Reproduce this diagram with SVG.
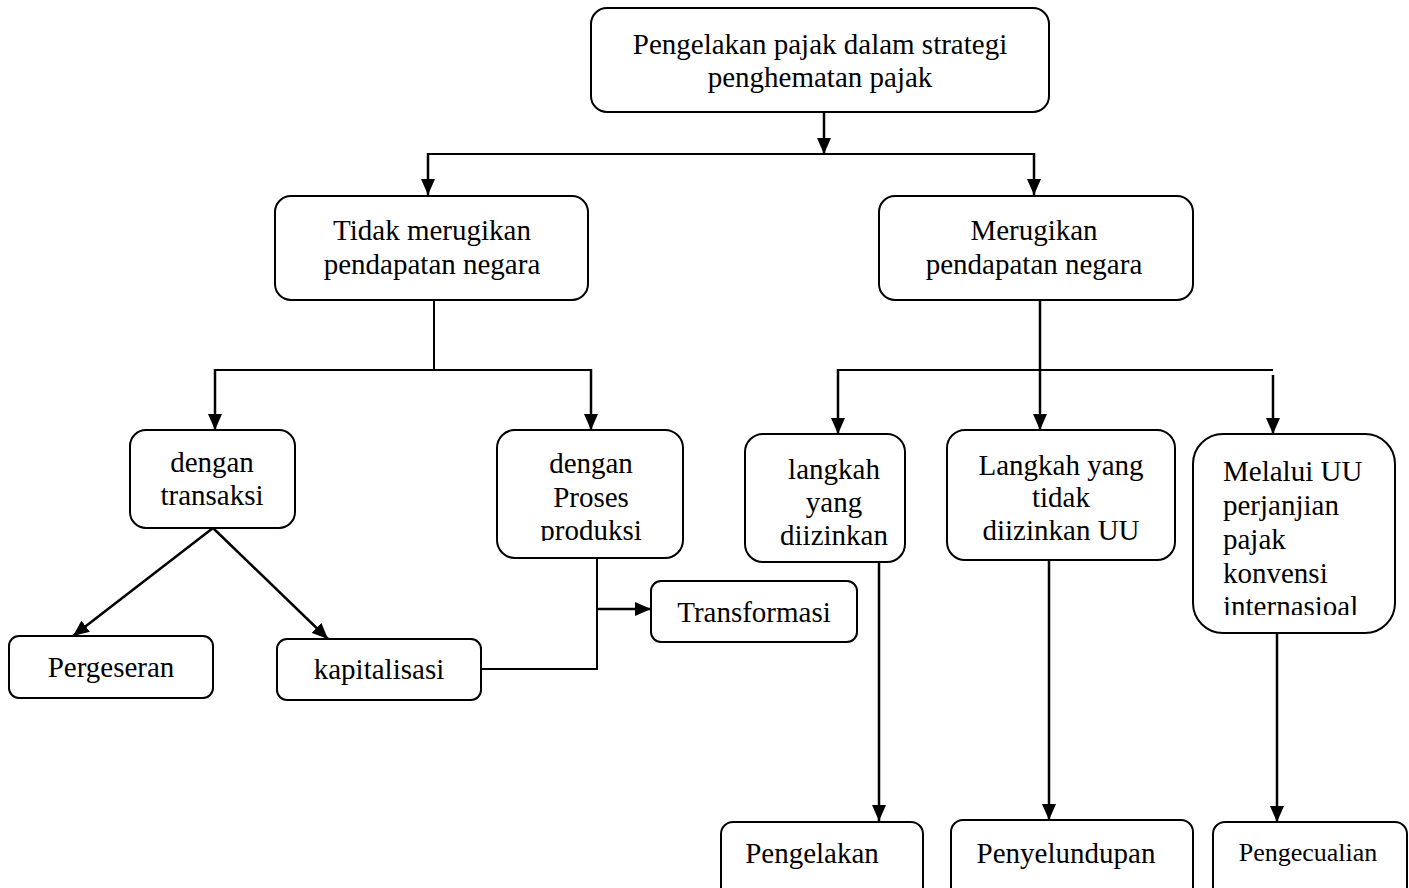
<svg xmlns="http://www.w3.org/2000/svg" width="1409" height="888" viewBox="0 0 1409 888">
<style>
.box{fill:#fff;stroke:#000;stroke-width:2}
.t{font-family:"Liberation Serif","Times New Roman",serif;font-size:29px;fill:#000}
.c{text-anchor:middle}
.ln{fill:none;stroke:#000;stroke-width:2}
.ar{fill:none;stroke:#000;stroke-width:2.5;marker-end:url(#ah)}
</style>
<defs>
<marker id="ah" markerUnits="userSpaceOnUse" markerWidth="16" markerHeight="14" refX="16" refY="7" orient="auto">
<path d="M0,0 L16,7 L0,14 z" fill="#000"/>
</marker>
<clipPath id="cp1"><rect x="497" y="430" width="186" height="111"/></clipPath>
<clipPath id="cp2"><rect x="745" y="434" width="160" height="112"/></clipPath>
<clipPath id="cp3"><rect x="1193" y="434" width="202" height="181"/></clipPath>
</defs>
<rect width="1409" height="888" fill="#fff"/>
<g id="connectors">
<path class="ar" d="M824,112 V154"/>
<path class="ln" d="M428,154 H1034"/>
<path class="ar" d="M428,153 V195"/>
<path class="ar" d="M1034,153 V195"/>
<path class="ln" d="M434,300 V370"/>
<path class="ln" d="M215,370 H591"/>
<path class="ar" d="M215,369 V430"/>
<path class="ar" d="M591,369 V430"/>
<path class="ar" d="M213,528 L73,636"/>
<path class="ar" d="M213,528 L328,639"/>
<path class="ln" d="M481,669 H597 V558"/>
<path class="ar" d="M597,609 H651"/>
<path class="ar" d="M1040,300 V430"/>
<path class="ln" d="M838,370 H1273"/>
<path class="ar" d="M838,369 V434"/>
<path class="ar" d="M1273,375 V434"/>
<path class="ar" d="M879,562 V821"/>
<path class="ar" d="M1049,560 V820"/>
<path class="ar" d="M1277,633 V822"/>
</g>
<g id="n-root">
<rect class="box" x="591" y="8" width="458" height="104" rx="16"/>
<text class="t c" x="820" y="54">Pengelakan pajak dalam strategi</text>
<text class="t c" x="820" y="87">penghematan pajak</text>
</g>
<g id="n-tidak">
<rect class="box" x="275" y="196" width="313" height="104" rx="16"/>
<text class="t c" x="432" y="240">Tidak merugikan</text>
<text class="t c" x="432" y="274">pendapatan negara</text>
</g>
<g id="n-merugikan">
<rect class="box" x="879" y="196" width="314" height="104" rx="16"/>
<text class="t c" x="1034" y="240">Merugikan</text>
<text class="t c" x="1034" y="274">pendapatan negara</text>
</g>
<g id="n-transaksi">
<rect class="box" x="130" y="430" width="165" height="98" rx="16"/>
<text class="t c" x="212" y="472">dengan</text>
<text class="t c" x="212" y="505">transaksi</text>
</g>
<g id="n-produksi">
<rect class="box" x="497" y="430" width="186" height="128" rx="18"/>
<g clip-path="url(#cp1)">
<text class="t c" x="591" y="473">dengan</text>
<text class="t c" x="591" y="507">Proses</text>
<text class="t c" x="591" y="540">produksi</text>
</g>
</g>
<g id="n-langkah">
<rect class="box" x="745" y="434" width="160" height="128" rx="18"/>
<g clip-path="url(#cp2)">
<text class="t c" x="834" y="479">langkah</text>
<text class="t c" x="834" y="512">yang</text>
<text class="t c" x="834" y="545">diizinkan</text>
</g>
</g>
<g id="n-tidak-izin">
<rect class="box" x="947" y="430" width="228" height="130" rx="18"/>
<text class="t c" x="1061" y="475">Langkah yang</text>
<text class="t c" x="1061" y="507">tidak</text>
<text class="t c" x="1061" y="540">diizinkan UU</text>
</g>
<g id="n-melalui">
<rect class="box" x="1193" y="434" width="202" height="199" rx="30"/>
<g clip-path="url(#cp3)">
<text class="t" x="1223" y="481">Melalui UU</text>
<text class="t" x="1223" y="515">perjanjian</text>
<text class="t" x="1223" y="549">pajak</text>
<text class="t" x="1223" y="583">konvensi</text>
<text class="t" x="1223" y="616">internasioal</text>
</g>
</g>
<g id="n-pergeseran">
<rect class="box" x="9" y="636" width="204" height="62" rx="10"/>
<text class="t c" x="111" y="677">Pergeseran</text>
</g>
<g id="n-kapitalisasi">
<rect class="box" x="277" y="639" width="204" height="61" rx="10"/>
<text class="t c" x="379" y="679">kapitalisasi</text>
</g>
<g id="n-transformasi">
<rect class="box" x="651" y="581" width="206" height="61" rx="10"/>
<text class="t c" x="754" y="622">Transformasi</text>
</g>
<g id="n-pengelakan">
<rect class="box" x="721" y="822" width="202" height="90" rx="12"/>
<text class="t c" x="812" y="863">Pengelakan</text>
</g>
<g id="n-penyelundupan">
<rect class="box" x="951" y="820" width="242" height="92" rx="12"/>
<text class="t c" x="1066" y="863">Penyelundupan</text>
</g>
<g id="n-pengecualian">
<rect class="box" x="1213" y="822" width="194" height="90" rx="12"/>
<text class="t c" x="1308" y="861" style="font-size:26px">Pengecualian</text>
</g>
</svg>
